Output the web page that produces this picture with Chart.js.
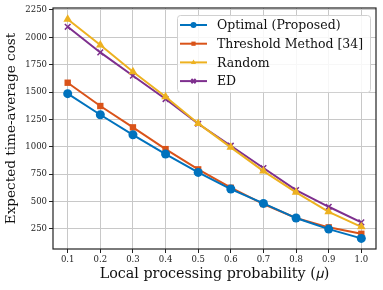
<!DOCTYPE html>
<html>
<head>
<meta charset="utf-8">
<script src="https://cdn.jsdelivr.net/npm/chart.js@4"></script>
<style>
  html, body { margin: 0; padding: 0; background: #fff; }
  #wrap { width: 383px; height: 290px; }
</style>
</head>
<body>
<div id="wrap"><canvas id="costChart" width="383" height="290"></canvas></div>
<script>
const probs = [0.1, 0.2, 0.3, 0.4, 0.5, 0.6, 0.7, 0.8, 0.9, 1.0];
const optimal = [1485, 1292, 1109, 933, 765, 613, 482, 348, 247, 162];
const threshold = [1585, 1372, 1177, 978, 793, 625, 476, 348, 263, 204];
const randomPolicy = [2165, 1929, 1685, 1457, 1213, 994, 777, 583, 405, 268];
const edPolicy = [2096, 1862, 1649, 1436, 1210, 1009, 805, 604, 451, 308];
const xTicks = [0.1, 0.2, 0.3, 0.4, 0.5, 0.6, 0.7, 0.8, 0.9, 1.0];
const yTicks = [250, 500, 750, 1000, 1250, 1500, 1750, 2000, 2250];

const serif = 'DejaVu Serif';

function pts(vals) {
  return probs.map((p, i) => ({ x: p, y: vals[i] }));
}

function series(label, vals, color, style, radius) {
  return {
    label: label,
    data: pts(vals),
    borderColor: color,
    backgroundColor: color,
    borderWidth: 2,
    pointStyle: style,
    pointRadius: radius,
    pointBorderWidth: style === 'crossRot' ? 1.5 : 0,
    pointBorderColor: color,
    tension: 0
  };
}

// box around the plot + legend inside the axes, drawn like matplotlib
const framePlugin = {
  id: 'frame',
  afterDatasetsDraw(chart) {
    const { ctx, chartArea: a } = chart;
    ctx.save();
    ctx.strokeStyle = '#222';
    ctx.lineWidth = 1.2;
    ctx.strokeRect(a.left, a.top, a.right - a.left, a.bottom - a.top);

    // legend
    const bx = 177, by = 15, bw = 193, bh = 77;
    ctx.fillStyle = 'rgba(255,255,255,0.85)';
    ctx.strokeStyle = '#d0d0d0';
    ctx.lineWidth = 1;
    ctx.beginPath();
    ctx.roundRect(bx + 0.5, by + 0.5, bw, bh, 3);
    ctx.fill();
    ctx.stroke();
    ctx.font = '12.5px "' + serif + '"';
    ctx.textBaseline = 'middle';
    chart.data.datasets.forEach((ds, i) => {
      const y = 25 + i * 18.7;
      ctx.strokeStyle = ds.borderColor;
      ctx.lineWidth = 2;
      ctx.beginPath();
      ctx.moveTo(180, y);
      ctx.lineTo(207, y);
      ctx.stroke();
      ctx.fillStyle = ds.borderColor;
      Chart.helpers.drawPoint(ctx, {
        pointStyle: ds.pointStyle,
        radius: 3,
        borderWidth: ds.pointStyle === 'crossRot' ? 1.2 : 0
      }, 193.5, y);
      ctx.fillStyle = '#111';
      ctx.fillText(ds.label, 217, y + 1);
    });
    ctx.restore();
  }
};

document.addEventListener('DOMContentLoaded', function () {
  const cctx = document.getElementById('costChart').getContext('2d');
  new Chart(cctx, {
    type: 'line',
    data: {
      datasets: [
        series('Optimal (Proposed)', optimal, '#0072BD', 'circle', 4.5),
        series('Threshold Method [34]', threshold, '#D95319', 'rect', 4.5),
        series('Random', randomPolicy, '#EDB120', 'triangle', 5),
        series('ED', edPolicy, '#7E2F8E', 'crossRot', 4)
      ]
    },
    options: {
      responsive: false,
      animation: false,
      layout: { padding: { left: 0, right: 7, top: 8, bottom: 0 } },
      scales: {
        x: {
          type: 'linear',
          min: 0.055,
          max: 1.045,
          afterBuildTicks: (s) => { s.ticks = xTicks.map(v => ({ value: v })); },
          afterFit: (s) => { s.height = 41; },
          ticks: {
            font: { family: serif, size: 8.5 },
            color: '#222',
            padding: 2,
            maxRotation: 0,
            callback: (v) => v.toFixed(1)
          },
          grid: { color: '#c8c8c8', lineWidth: 1, tickLength: 4, tickColor: '#222' },
          border: { display: false },
          title: {
            display: true,
            text: 'Local processing probability (\u{1D707})',
            font: { family: serif, size: 14.3 },
            color: '#111',
            padding: { top: 0, bottom: 7 }
          }
        },
        y: {
          min: 65,
          max: 2268,
          afterBuildTicks: (s) => { s.ticks = yTicks.map(v => ({ value: v })); },
          afterFit: (s) => { s.width = 53; },
          ticks: {
            font: { family: serif, size: 8.5 },
            color: '#222',
            padding: 2,
            callback: (v) => String(v)
          },
          grid: { color: '#c8c8c8', lineWidth: 1, tickLength: 4, tickColor: '#222' },
          border: { display: false },
          title: {
            display: true,
            text: 'Expected time-average cost',
            font: { family: serif, size: 13.6 },
            color: '#111',
            padding: { top: 3, bottom: 0 }
          }
        }
      },
      plugins: {
        legend: { display: false },
        tooltip: { enabled: false }
      }
    },
    plugins: [framePlugin]
  });
});
</script>
</body>
</html>
